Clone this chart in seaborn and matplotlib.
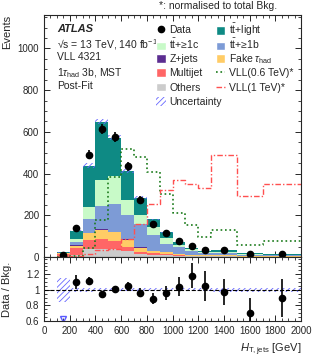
import numpy as np
import pandas as pd
import matplotlib
matplotlib.use("Agg")
import matplotlib.pyplot as plt
import seaborn as sns
from matplotlib.patches import Patch
from matplotlib.lines import Line2D
from matplotlib.ticker import MultipleLocator, FormatStrFormatter

# binning (GeV)
edges = [100, 200, 300, 400, 500, 600, 700, 800, 900, 1000, 1100, 1200, 1300, 1500, 1700, 2000]

# post-fit background yields per bin
others   = [2, 10, 38, 40, 40, 30, 15, 12, 10, 7, 5, 4, 4, 2, 2]
multijet = [14, 33, 42, 48, 38, 20, 8, 6, 4, 2, 1, 1, 1, 0.5, 0.5]
fake_tau = [2, 12, 33, 43, 40, 32, 22, 10, 10, 6, 4, 3, 3, 1.5, 1]
zjets    = [0.5, 2, 3, 4, 4, 4, 3, 2, 2, 1, 1, 0.5, 0.5, 0.3, 0.3]
tt_1b    = [2, 15, 66, 112, 132, 114, 112, 74, 38, 30, 16, 9, 10, 6, 4]
tt_1c    = [1, 16, 60, 121, 136, 72, 43, 40, 26, 13, 10, 6, 7, 4, 3.5]
tt_light = [1.5, 39, 196, 281, 182, 140, 82, 37, 30, 14, 7, 6.5, 8.5, 3.7, 3.2]

# signals (normalised to total bkg)
vll_06 = [0, 4, 43, 176, 385, 520, 481, 407, 302, 211, 153, 96, 131, 60, 76]
vll_1  = [1, 4, 15, 35, 40, 86, 160, 254, 323, 367, 352, 329, 489, 292, 349]

data = [12, 140, 490, 615, 575, 435, 275, 160, 115, 76, 52, 31.5, 33, 12.6, 13]
unc_rel = [0.15, 0.03, 0.025, 0.02, 0.02, 0.02, 0.02, 0.02, 0.02, 0.02, 0.02, 0.02, 0.025, 0.025, 0.025]

names = [r"$\mathrm{t\bar{t}}$+light", r"$\mathrm{t\bar{t}}$+≥1c", r"$\mathrm{t\bar{t}}$+≥1b",
         "Z+jets", r"Fake $\tau_{\mathrm{had}}$", "Multijet", "Others"]
colors = ["#0e8a84", "#c8fac8", "#7d9bd6", "#5c2d91", "#ffcc66", "#ff6666", "#cccccc"]

sns.set_style("ticks")
plt.rcParams['font.family'] = ['Liberation Sans', 'DejaVu Sans']
plt.rcParams['mathtext.fontset'] = 'custom'
plt.rcParams['mathtext.rm'] = 'Liberation Sans'
plt.rcParams['mathtext.it'] = 'Liberation Sans:italic'
plt.rcParams['mathtext.bf'] = 'Liberation Sans:bold'
plt.rcParams['hatch.linewidth'] = 0.6
plt.rcParams['axes.linewidth'] = 0.8

edges_a = np.array(edges, dtype=float)
centers = 0.5 * (edges_a[1:] + edges_a[:-1])
widths = np.diff(edges_a)

rows = []
for n, vals in zip(names, [tt_light, tt_1c, tt_1b, zjets, fake_tau, multijet, others]):
    for c, v in zip(centers, vals):
        rows.append({'x': c, 'w': v, 'proc': n})
df = pd.DataFrame(rows)

bkg = np.sum([others, multijet, fake_tau, zjets, tt_1b, tt_1c, tt_light], axis=0)
data_a = np.array(data)
unc = bkg * np.array(unc_rel)

fig = plt.figure(figsize=(3.17, 3.58), dpi=100)
ax1 = fig.add_axes([0.139, 0.282, 0.811, 0.676])
ax2 = fig.add_axes([0.139, 0.103, 0.811, 0.179], sharex=ax1)

sns.histplot(data=df, x='x', weights='w', hue='proc', hue_order=names, palette=colors,
             multiple='stack', bins=edges, element='step', alpha=1, linewidth=0,
             legend=False, ax=ax1)

hatch_col = (0.4, 0.4, 1.0)
ax1.bar(edges_a[:-1], 2 * unc, bottom=bkg - unc, width=widths, align='edge',
        fill=False, hatch='//////', edgecolor=hatch_col, linewidth=0)

green = '#1a7a1a'
red = '#ff5050'
dashdot = (0, (4, 1.5, 1, 1.5))
sns.histplot(x=centers, weights=vll_06, bins=edges, element='step', fill=False,
             color=green, linestyle=':', linewidth=1.2, ax=ax1)
sns.histplot(x=centers, weights=vll_1, bins=edges, element='step', fill=False,
             color=red, linestyle=dashdot, linewidth=1.0, ax=ax1)

ax1.errorbar(centers, data_a, yerr=np.sqrt(data_a), fmt='o', color='black',
             markersize=4.5, elinewidth=1.2, capsize=0)

ax1.set_xlim(0, 2000)
ax1.set_ylim(0, 1160)
ax1.set_ylabel('Events', loc='top', fontsize=8)
ax1.set_xlabel('')
ax1.yaxis.set_major_locator(MultipleLocator(200))
ax1.yaxis.set_minor_locator(MultipleLocator(50))
ax1.xaxis.set_major_locator(MultipleLocator(200))
ax1.xaxis.set_minor_locator(MultipleLocator(50))
ax1.tick_params(labelbottom=False)

for ax in (ax1, ax2):
    ax.tick_params(which='both', direction='in', top=True, right=True, labelsize=7)
    ax.tick_params(which='major', length=4.5, width=0.7)
    ax.tick_params(which='minor', length=2.5, width=0.6)

# text block
tx = 0.05
ax1.text(tx, 0.965, 'ATLAS', transform=ax1.transAxes, fontsize=8, fontweight='bold',
         style='italic', va='top')
lines = ["√s = 13 TeV, 140 fb$^{-1}$", "VLL 4321", r"1$\tau_{\mathrm{had}}$ 3b, MST", "Post-Fit"]
for i, t in enumerate(lines):
    ax1.text(tx, 0.907 - i * 0.0595, t, transform=ax1.transAxes, fontsize=7.5, va='top')
fig.text(0.874, 0.982, "*: normalised to total Bkg.", fontsize=7.5, ha='right', va='center')

# legend, one entry per row so rows are evenly spaced
h1 = [Line2D([], [], marker='o', color='black', linestyle='none', markersize=4.5),
      Patch(facecolor=colors[1]), Patch(facecolor=colors[3]), Patch(facecolor=colors[5]),
      Patch(facecolor=colors[6]),
      Patch(facecolor='none', edgecolor=hatch_col, hatch='//////', linewidth=0)]
l1 = ['Data', names[1], 'Z+jets', 'Multijet', 'Others', 'Uncertainty']
h2 = [Patch(facecolor=colors[0]), Patch(facecolor=colors[2]), Patch(facecolor=colors[4]),
      Line2D([], [], color=green, linestyle=':', linewidth=1.2),
      Line2D([], [], color=red, linestyle=dashdot, linewidth=1.0)]
l2 = [names[0], names[2], names[4], 'VLL(0.6 TeV)*', 'VLL(1 TeV)*']
kw = dict(frameon=False, fontsize=7.5, handlelength=0.9, handleheight=0.9,
          handletextpad=0.35, borderpad=0, borderaxespad=0, loc='center left')
row_y = [30, 44.4, 58.8, 73.2, 87.6, 102]
for col_x, hs, ls in [(0.437, h1, l1), (0.668, h2, l2)]:
    for i, (h, l) in enumerate(zip(hs, ls)):
        leg = ax1.legend([h], [l], bbox_to_anchor=(col_x, (257 - row_y[i]) / 242), **kw)
        ax1.add_artist(leg)
ax1.legend_ = None

# ratio panel
ratio = data_a / bkg
ratio_err = np.sqrt(data_a) / bkg
ax2.bar(edges_a[:-1], 2 * np.array(unc_rel), bottom=1 - np.array(unc_rel), width=widths,
        align='edge', fill=False, hatch='//////', edgecolor=hatch_col, linewidth=0)
ax2.axhline(1, color='black', linestyle='--', linewidth=0.8)
inr = ratio >= 0.6
ax2.errorbar(centers[inr], ratio[inr], yerr=ratio_err[inr], fmt='o', color='black',
             markersize=4.5, elinewidth=1.2, capsize=0)
ax2.plot(centers[~inr], np.full((~inr).sum(), 0.63), marker='v', linestyle='none',
         markerfacecolor='none', markeredgecolor=(0.35, 0.35, 1.0), markersize=5)
ax2.set_ylim(0.6, 1.42)
ax2.set_yticks([0.6, 0.8, 1.0, 1.2])
ax2.yaxis.set_major_formatter(FormatStrFormatter('%g'))
ax2.yaxis.set_minor_locator(MultipleLocator(0.05))
ax2.set_ylabel('Data / Bkg.', fontsize=8)
ax2.set_xlabel(r'$H_{\mathrm{T,jets}}$ [GeV]', loc='right', fontsize=8)
ax1.yaxis.set_label_coords(-0.125, 1.0)
ax2.yaxis.set_label_coords(-0.125, 0.5)

fig.savefig('out.png', dpi=100)
